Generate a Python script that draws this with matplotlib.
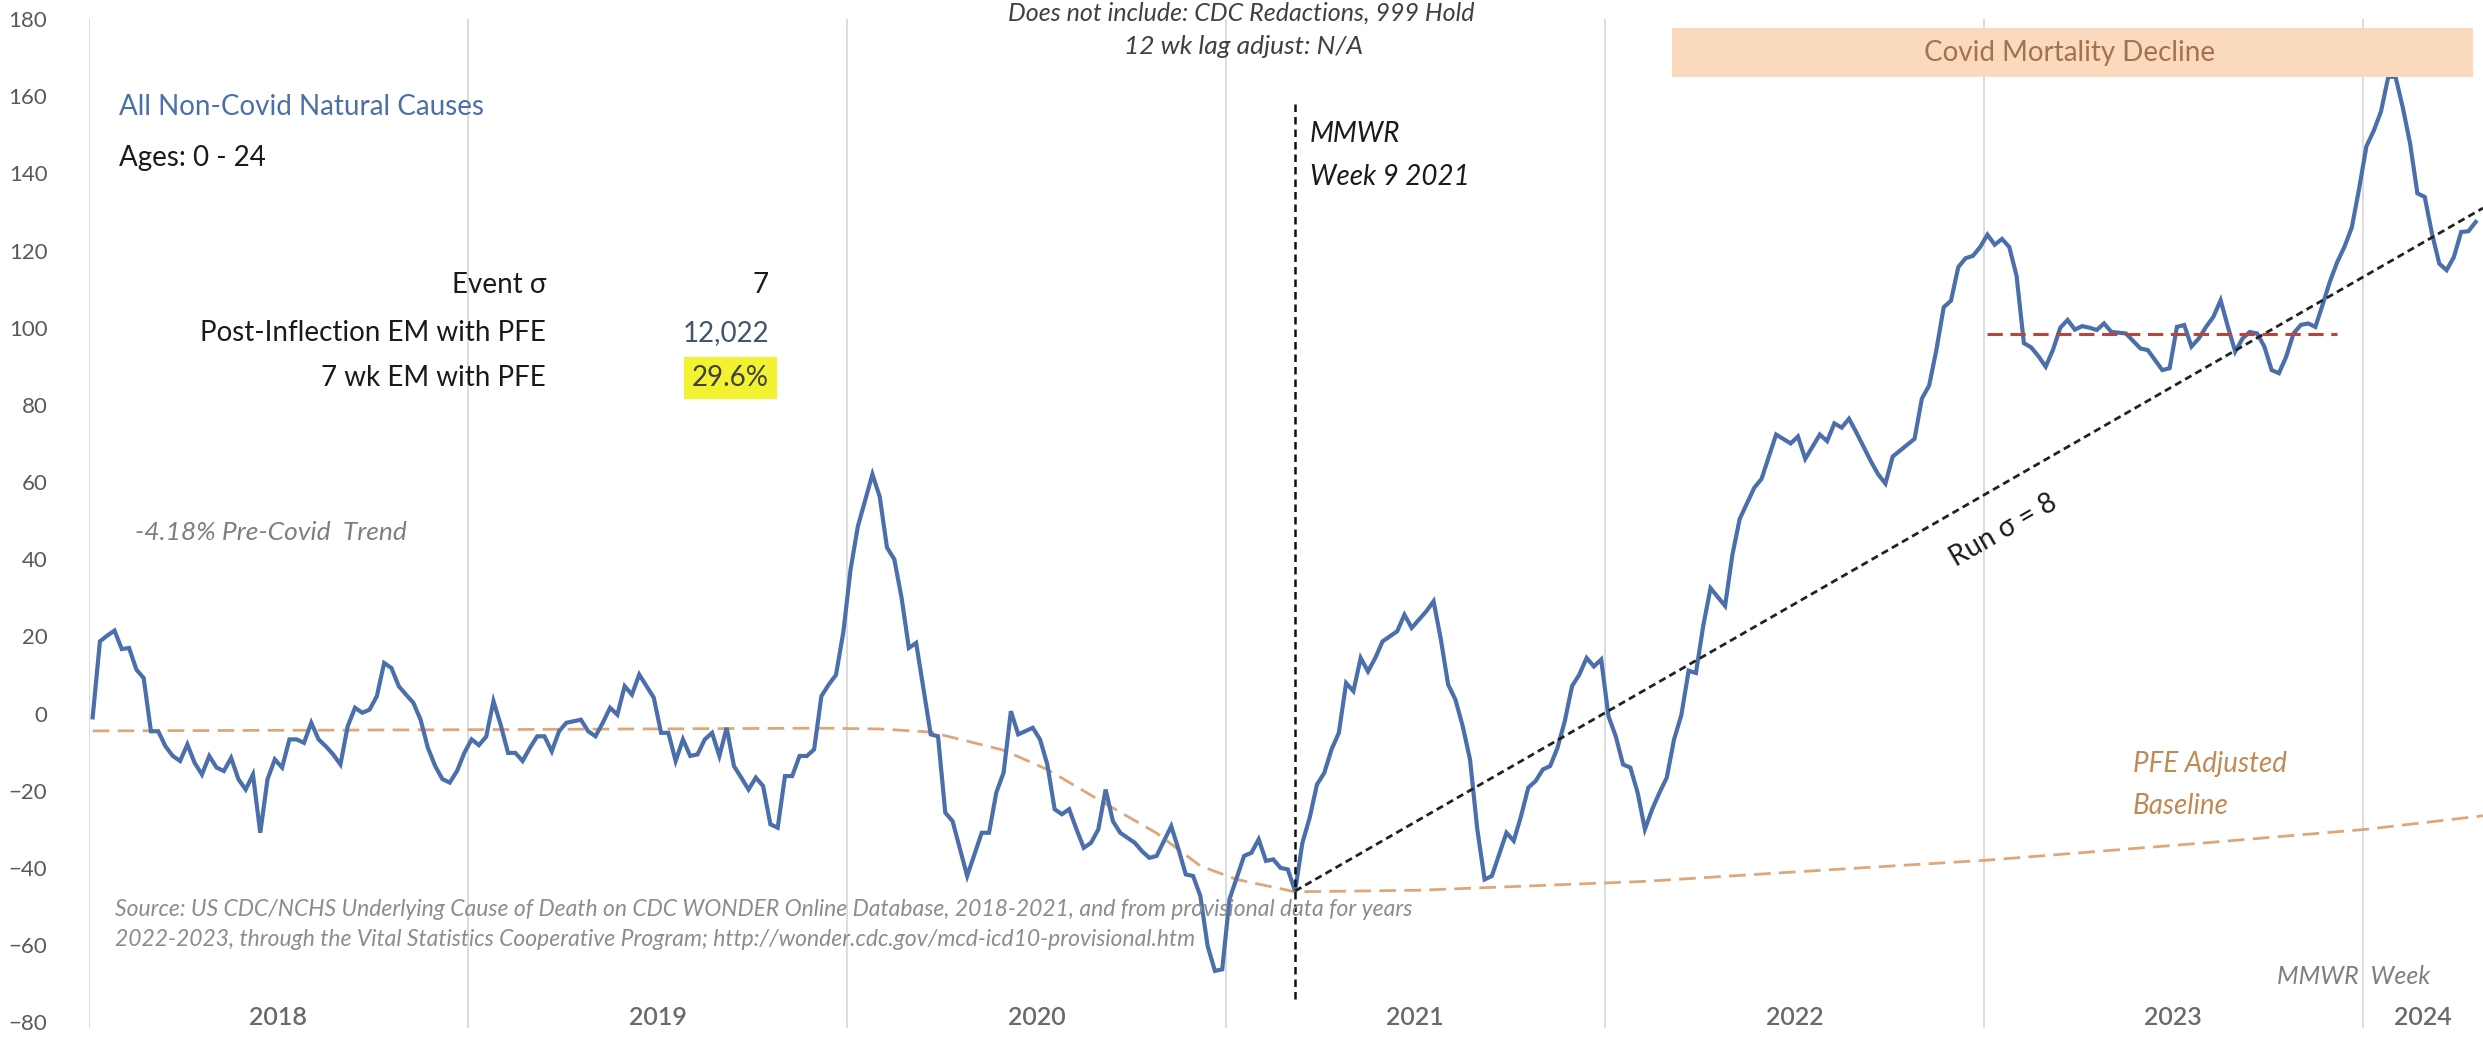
import numpy as np
import matplotlib.pyplot as plt
from matplotlib.patches import Rectangle

plt.rcParams['font.family'] = ['Lato', 'DejaVu Sans']

# excess mortality %, ages 0-24, one entry per MMWR week counted from 2018 wk 1
weeks = [0, 1, 2, 3, 4, 5, 6, 7, 8, 9, 10, 11, 12, 13, 14, 15, 16, 17, 18, 19,
         20, 21, 22, 23, 24, 25, 26, 27, 28, 29, 30, 31, 32, 33, 34, 35, 36, 37, 38, 39,
         40, 41, 42, 43, 44, 45, 46, 47, 48, 49, 50, 51, 52, 53, 54, 55, 56, 57, 58, 59,
         60, 61, 62, 63, 64, 65, 67, 68, 69, 70, 71, 72, 73, 74, 75, 76, 77, 78, 79, 80,
         81, 82, 83, 84, 85, 86, 87, 88, 89, 90, 91, 92, 93, 94, 95, 96, 97, 98, 99, 100,
         101, 102, 103, 104, 105, 107, 108, 109, 110, 111, 112, 113, 115, 116, 117, 118, 120, 122, 123, 124,
         125, 126, 127, 129, 130, 131, 132, 133, 134, 135, 136, 137, 138, 139, 140, 141, 142, 143, 144, 145,
         146, 148, 149, 150, 151, 152, 153, 154, 155, 156, 158, 159, 160, 161, 162, 163, 164, 165, 166, 167,
         168, 169, 170, 171, 172, 173, 174, 175, 176, 177, 179, 180, 181, 183, 184, 185, 186, 187, 188, 189,
         190, 191, 192, 193, 194, 195, 196, 197, 198, 199, 200, 201, 202, 203, 204, 205, 206, 207, 208, 209,
         210, 211, 212, 213, 214, 215, 216, 217, 218, 219, 220, 221, 222, 224, 225, 226, 228, 229, 231, 233,
         234, 235, 237, 238, 239, 240, 241, 242, 244, 245, 246, 247, 250, 251, 252, 253, 254, 255, 256, 257,
         258, 259, 260, 261, 262, 263, 264, 265, 266, 267, 268, 269, 270, 271, 272, 273, 274, 275, 276, 277,
         279, 281, 282, 284, 285, 286, 287, 288, 289, 290, 291, 292, 293, 294, 295, 296, 297, 298, 299, 300,
         301, 302, 303, 304, 305, 306, 307, 308, 309, 310, 311, 312, 313, 314, 315, 316, 317, 318, 319, 320,
         321, 322, 323, 324, 325, 326, 327]
excess = [-1, 18.7, 20.2, 21.5, 16.7, 17, 11.4, 9.2, -4.6, -4.6, -8.5, -11, -12.3, -8, -12.8, -15.8, -11, -14, -14.9, -11.5,
          -17, -19.7, -15.8, -30.9, -17, -11.9, -14, -6.7, -6.7, -7.6, -2.4, -6.7, -8.5, -10.6, -13.2, -3.3, 1.5, 0.2, 1, 4.5,
          13.1, 11.8, 7.1, 4.9, 2.8, -1.6, -8.9, -13.6, -17, -17.9, -14.9, -10.2, -6.7, -8.2, -6, 3.2, -3, -10.2, -10.2, -12.3,
          -8.9, -5.9, -5.9, -9.8, -4.6, -2.4, -1.6, -4.6, -5.9, -2.4, 1.5, -0.3, 7.1, 4.9, 10.1, 7.1, 4.1, -5, -5, -12.3,
          -6.7, -11, -10.6, -6.7, -5, -11, -3.7, -13.6, -16.6, -19.7, -16.6, -18.8, -28.7, -29.6, -16.2, -16.2, -11, -11, -9.3, 4.5,
          7.5, 10, 21, 37.3, 48.5, 62, 56.2, 43, 40, 30, 17, 18.3, -5.4, -5.9, -25.7, -27.9, -42.1, -30.9, -30.9, -20.5,
          -15.3, 0.6, -5.4, -3.7, -6.7, -13.2, -24.8, -26.1, -24.8, -30, -34.8, -33.5, -30, -19.7, -27.9, -30.9, -32.2, -33.5, -35.7, -37.4,
          -36.9, -29.2, -35.2, -41.7, -42.1, -47.3, -60.3, -66.7, -66.3, -48.1, -36.9, -36.1, -32.6, -38.2, -37.8, -40, -40.4, -46, -33.5, -27,
          -18.4, -15.4, -9.3, -5, 7.9, 5.8, 14.4, 10.9, 14.4, 18.7, 21.3, 25.6, 22.2, 26.5, 29.1, 19.2, 7.5, 3.6, -3.3, -11.9,
          -30, -43, -42.1, -36.5, -30.9, -33, -26.6, -19.2, -17.5, -14.5, -13.6, -8.9, -2, 7.1, 10.1, 14.4, 12.2, 14, -0.7, -5.9,
          -13.2, -14, -20.5, -30, -24.8, -20.5, -16.6, -6.7, -0.4, 11.1, 10.5, 22.7, 32.5, 27.9, 41.1, 50.4, 58.5, 60.8, 72.3, 70,
          71.8, 66, 72.3, 70.6, 75.2, 74.1, 76.4, 72.9, 65.4, 62, 59.6, 66.6, 71.2, 81.6, 85, 94.3, 105.3, 107, 115.7, 118,
          118.6, 120.9, 124.1, 121.5, 123, 120.9, 113.4, 96, 94.9, 92.6, 89.9, 94.3, 100, 102, 99.5, 100.4, 100, 99.4, 101.1, 98.9,
          98.5, 94.6, 94.2, 89, 89.5, 100.2, 100.7, 95.1, 97.2, 100.2, 102.8, 107.1, 100.2, 93.8, 97.2, 98.9, 98.5, 95.1, 89, 88.2,
          92.5, 98.5, 100.7, 101.1, 100.2, 106, 112, 117, 121, 126, 136, 147, 151, 156, 165, 165, 157, 147.7, 134.8, 133.9,
          124.4, 116.6, 114.9, 118.3, 124.8, 125, 127.4]

# PFE adjusted baseline
pfe_weeks = [0, 50, 100, 108, 115, 125, 131, 138, 146, 152, 157, 165, 182, 213, 234, 260, 290, 312, 328]
pfe_vals = [-4.5, -4.2, -3.8, -4.0, -4.8, -9.5, -14.5, -22.3, -31, -39.5, -43, -46.2, -45.8, -43.5, -41, -38, -33.5, -30, -26.5]

# run trend from the inflection week, and the 2023 plateau level
run_weeks = [165, 328]
run_vals = [-46, 131]
flat_weeks = [260, 308]
flat_vals = [98.3, 98.3]

mmwr_week = 165
year_starts = [0, 52, 104, 156, 208, 260, 312]
years = ['2018', '2019', '2020', '2021', '2022', '2023', '2024']
yticks = list(range(-80, 181, 20))

W, H = 2483, 1052
fig = plt.figure(figsize=(W / 100, H / 100), dpi=100)
ax = fig.add_axes([89 / W, 1 - 1028 / H, 1 - 89 / W, (1028 - 19) / H])


def px(x, y):
    return x / W, 1 - y / H


x = np.array(weeks) + 0.5
for ys in year_starts:
    ax.axvline(ys, color='#D9D9D9', lw=1.3, zorder=0)

ax.plot(np.array(pfe_weeks) + 0.5, pfe_vals, color='#DDA77A', lw=2, dashes=(6, 3), zorder=2)
ax.plot(x, excess, color='#4A6FAA', lw=3, zorder=3, solid_joinstyle='miter')
ax.plot(np.array(run_weeks) + 0.5, run_vals, color='#222222', lw=2, dashes=(2.6, 1.6), zorder=4)
ax.plot(np.array(flat_weeks) + 0.5, flat_vals, color='#B8453A', lw=2.2, dashes=(5, 2.5), zorder=4)
ax.plot([mmwr_week + 0.5] * 2, [-74, 159], color='#111111', lw=1.8, dashes=(3, 2), zorder=4)

ax.set_xlim(0, 328.5)
ax.set_ylim(-81.5, 180)
ax.set_yticks(yticks)
ax.set_xticks([])
ax.tick_params(axis='y', length=0, pad=30, labelsize=16, labelcolor='#595959')
for s in ax.spines.values():
    s.set_visible(False)

for ys, yr in zip(year_starts, years):
    mid = (ys + min(ys + 52, 328.5)) / 2
    ax.text(mid, 0.01, yr, transform=ax.get_xaxis_transform(), ha='center', va='center',
            fontsize=18, fontweight='semibold', color='#6A6A6A')

# annotations
fig.text(*px(1241, 13), 'Does not include: CDC Redactions, 999 Hold', ha='center', va='center',
         fontsize=18, style='italic', color='#404040')
fig.text(*px(1243, 46), '12 wk lag adjust: N/A', ha='center', va='center',
         fontsize=19, style='italic', color='#404040')
fig.text(*px(1310, 134), 'MMWR', ha='left', va='center', fontsize=20, style='italic', color='#1A1A1A')
fig.text(*px(1310, 177), 'Week 9 2021', ha='left', va='center', fontsize=20, style='italic', color='#1A1A1A')

fig.text(*px(119, 107), 'All Non-Covid Natural Causes', ha='left', va='center', fontsize=20, color='#4A6FAA')
fig.text(*px(119, 158), 'Ages: 0 - 24', ha='left', va='center', fontsize=20, color='#1A1A1A')

fig.text(*px(546, 285), 'Event σ', ha='right', va='center', fontsize=20, color='#1A1A1A')
fig.text(*px(769, 285), '7', ha='right', va='center', fontsize=20, color='#1A1A1A')
fig.text(*px(546, 333), 'Post-Inflection EM with PFE', ha='right', va='center', fontsize=20, color='#1A1A1A')
fig.text(*px(769, 333), '12,022', ha='right', va='center', fontsize=20, color='#44546A')
fig.text(*px(546, 378), '7 wk EM with PFE', ha='right', va='center', fontsize=20, color='#1A1A1A')
fig.text(*px(769, 378), '29.6%', ha='right', va='center', fontsize=20, color='#404040',
         bbox=dict(facecolor='#F2F230', edgecolor='none', pad=6))

fig.text(*px(135, 532), '-4.18% Pre-Covid  Trend', ha='left', va='center', fontsize=19,
         style='italic', color='#7F7F7F')

fig.text(*px(115, 910), 'Source: US CDC/NCHS Underlying Cause of Death on CDC WONDER Online Database, '
         '2018-2021, and from provisional data for years', ha='left', va='center', fontsize=16.5,
         style='italic', color='#8C8C8C')
fig.text(*px(115, 940), '2022-2023, through the Vital Statistics Cooperative Program; '
         'http://wonder.cdc.gov/mcd-icd10-provisional.htm', ha='left', va='center', fontsize=16.5,
         style='italic', color='#8C8C8C')

fig.patches.append(Rectangle(px(1672, 77), (2473 - 1672) / W, 49 / H, transform=fig.transFigure,
                             facecolor='#FBD9BC', edgecolor='none', zorder=1))
fig.text(*px(2070, 53), 'Covid Mortality Decline', ha='center', va='center', fontsize=20, color='#A2744B')

fig.text(*px(2003, 530), 'Run σ = 8', ha='center', va='center', fontsize=20, rotation=30,
         rotation_mode='anchor', color='#1A1A1A')

fig.text(*px(2133, 764), 'PFE Adjusted', ha='left', va='center', fontsize=20, style='italic', color='#C08A55')
fig.text(*px(2133, 806), 'Baseline', ha='left', va='center', fontsize=20, style='italic', color='#C08A55')
fig.text(*px(2430, 977), 'MMWR  Week', ha='right', va='center', fontsize=18, style='italic', color='#7F7F7F')

fig.savefig('out.png', dpi=100)
